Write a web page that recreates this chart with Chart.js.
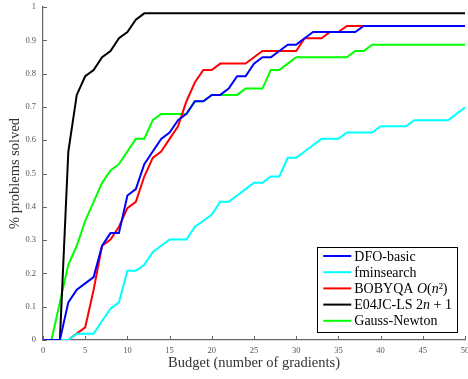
<!DOCTYPE html>
<html>
<head>
<meta charset="utf-8">
<script src="https://cdn.jsdelivr.net/npm/chart.js@4.4.0/dist/chart.umd.min.js"></script>
<style>
  html, body { margin: 0; padding: 0; background: #fff; }
  canvas { display: block; }
</style>
</head>
<body>
<canvas id="myChart" width="468" height="379"></canvas>
<script>
// budgets (number of gradients)
const budgets = [0,1,2,3,4,5,6,7,8,9,10,11,12,13,14,15,16,17,18,19,20,21,22,23,24,25,26,27,28,29,30,31,32,33,34,35,36,37,38,39,40,41,42,43,44,45,46,47,48,49,50];

// fraction of problems solved
const dfoBasic = [0,0,0,.113,.151,.170,.189,.283,.321,.321,.434,.453,.528,.566,.604,.623,.660,.679,.717,.717,.736,.736,.755,.792,.792,.830,.849,.849,.868,.887,.887,.906,.925,.925,.925,.925,.925,.925,.943,.943,.943,.943,.943,.943,.943,.943,.943,.943,.943,.943,.943];
const fminsearch = [0,0,0,0,.019,.019,.019,.057,.094,.113,.208,.208,.226,.264,.283,.302,.302,.302,.340,.358,.377,.415,.415,.434,.453,.472,.472,.491,.491,.547,.547,.566,.585,.604,.604,.604,.623,.623,.623,.623,.642,.642,.642,.642,.660,.660,.660,.660,.660,.679,.698];
const bobyqa = [0,0,0,0,.019,.038,.151,.283,.302,.340,.396,.415,.491,.547,.566,.604,.642,.717,.774,.811,.811,.830,.830,.830,.830,.849,.868,.868,.868,.868,.868,.906,.906,.906,.925,.925,.943,.943,.943,.943,.943,.943,.943,.943,.943,.943,.943,.943,.943,.943,.943];
const e04jc = [0,0,0,.566,.736,.792,.811,.849,.868,.906,.925,.962,.981,.981,.981,.981,.981,.981,.981,.981,.981,.981,.981,.981,.981,.981,.981,.981,.981,.981,.981,.981,.981,.981,.981,.981,.981,.981,.981,.981,.981,.981,.981,.981,.981,.981,.981,.981,.981,.981,.981];
const gaussNewton = [0,0,.113,.226,.283,.358,.415,.472,.509,.528,.566,.604,.604,.660,.679,.679,.679,.679,.717,.717,.736,.736,.736,.736,.755,.755,.755,.811,.811,.830,.849,.849,.849,.849,.849,.849,.849,.868,.868,.887,.887,.887,.887,.887,.887,.887,.887,.887,.887,.887,.887];

// legend labels, *...* marks italic parts
const seriesLabels = ["DFO-basic", "fminsearch", "BOBYQA *O*(*n*²)", "E04JC-LS 2*n* + 1", "Gauss-Newton"];
const seriesColors = ["#0000ff", "#00ffff", "#ff0000", "#000000", "#00ff00"];
const seriesValues = [dfoBasic, fminsearch, bobyqa, e04jc, gaussNewton];

const serif = "'Liberation Serif', 'DejaVu Serif', serif";
const axisColor = "#666";

// inward tick marks (only left and bottom axes)
const innerTicks = {
  id: "innerTicks",
  afterDraw(chart) {
    const ctx = chart.ctx;
    const xs = chart.scales.x, ys = chart.scales.y;
    ctx.save();
    ctx.strokeStyle = axisColor;
    ctx.lineWidth = 1;
    xs.ticks.forEach((t) => {
      const px = Math.round(xs.getPixelForValue(t.value)) + 0.5;
      ctx.beginPath();
      ctx.moveTo(px, ys.bottom);
      ctx.lineTo(px, ys.bottom - 4);
      ctx.stroke();
    });
    ys.ticks.forEach((t) => {
      const py = Math.round(ys.getPixelForValue(t.value)) + 0.5;
      ctx.beginPath();
      ctx.moveTo(xs.left, py);
      ctx.lineTo(xs.left + 4, py);
      ctx.stroke();
    });
    ctx.restore();
  },
};

// boxed legend in the lower right of the plot
const boxLegend = {
  id: "boxLegend",
  afterDraw(chart) {
    const ctx = chart.ctx;
    const area = chart.chartArea;
    const size = 14;
    const rowH = 16.2;
    const parts = seriesLabels.map((s) => s.split("*"));
    ctx.save();
    const widthOf = (p) => {
      let w = 0;
      p.forEach((seg, i) => {
        ctx.font = (i % 2 ? "italic " : "") + size + "px " + serif;
        w += ctx.measureText(seg).width;
      });
      return w;
    };
    const maxW = Math.max(...parts.map(widthOf));
    const boxW = 37 + maxW + 5;
    const boxH = rowH * parts.length + 4;
    const right = area.right - 8;
    const bottom = area.bottom - 8.5;
    const left = right - boxW, top = bottom - boxH;
    ctx.fillStyle = "#fff";
    ctx.fillRect(left, top, boxW, boxH);
    ctx.strokeStyle = "#000";
    ctx.lineWidth = 1;
    ctx.strokeRect(Math.round(left) + 0.5, Math.round(top) + 0.5, Math.round(boxW), Math.round(boxH));
    chart.data.datasets.forEach((ds, k) => {
      const cy = top + 9.5 + k * rowH;
      ctx.strokeStyle = ds.borderColor;
      ctx.lineWidth = 2;
      ctx.beginPath();
      ctx.moveTo(left + 6, cy);
      ctx.lineTo(left + 34, cy);
      ctx.stroke();
      let x = left + 37;
      ctx.fillStyle = "#000";
      ctx.textBaseline = "middle";
      parts[k].forEach((seg, i) => {
        ctx.font = (i % 2 ? "italic " : "") + size + "px " + serif;
        ctx.fillText(seg, x, cy + 1);
        x += ctx.measureText(seg).width;
      });
    });
    ctx.restore();
  },
};

let ctx1 = document.getElementById("myChart").getContext("2d");
let myChart = new Chart(ctx1, {
  type: "line",
  data: {
    datasets: seriesValues.map((vals, k) => ({
      label: seriesLabels[k].replace(/\*/g, ""),
      data: vals.map((v, i) => ({ x: budgets[i], y: v })),
      borderColor: seriesColors[k],
      backgroundColor: seriesColors[k],
      borderWidth: 2,
      pointRadius: 0,
      tension: 0,
      fill: false,
    })),
  },
  options: {
    responsive: false,
    animation: false,
    devicePixelRatio: 1,
    layout: { padding: { top: 7, right: 3, left: 0, bottom: 0 } },
    plugins: {
      legend: { display: false },
      tooltip: { enabled: false },
    },
    scales: {
      x: {
        type: "linear",
        min: 0,
        max: 50,
        grid: { drawOnChartArea: false, drawTicks: false },
        border: { display: true, color: axisColor, width: 1.2 },
        ticks: {
          stepSize: 5,
          padding: 6,
          color: "#555",
          font: { family: serif, size: 8.5 },
          maxRotation: 0,
        },
        title: {
          display: true,
          text: "Budget (number of gradients)",
          color: "#333",
          font: { family: serif, size: 14.5 },
          padding: { top: 0, bottom: 7 },
        },
        afterFit(scale) {
          scale.height = 39;
          scale.paddingLeft = 0;
          scale.paddingRight = 0;
        },
      },
      y: {
        min: 0,
        max: 1,
        grid: { drawOnChartArea: false, drawTicks: false },
        border: { display: true, color: axisColor, width: 1.2 },
        ticks: {
          stepSize: 0.1,
          padding: 7,
          color: "#555",
          font: { family: serif, size: 8.5 },
          callback: (v) => String(Number(v.toFixed(1))),
        },
        title: {
          display: true,
          text: "% problems solved",
          color: "#333",
          font: { family: serif, size: 14.5 },
          padding: { top: 6, bottom: 0 },
        },
        afterFit(scale) {
          scale.width = 43;
          scale.paddingTop = 0;
          scale.paddingBottom = 0;
        },
      },
    },
  },
  plugins: [innerTicks, boxLegend],
});
</script>
</body>
</html>
